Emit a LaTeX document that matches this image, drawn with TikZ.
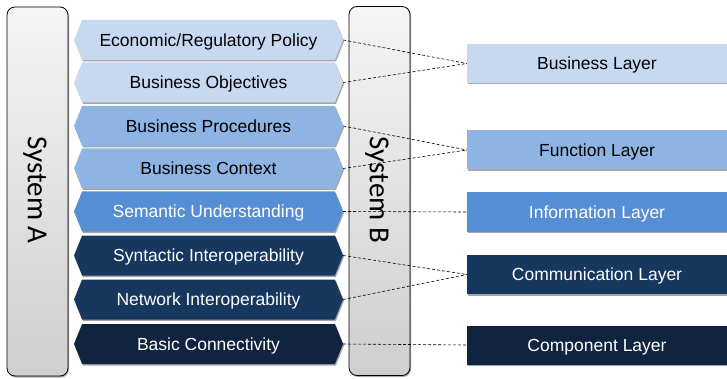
\documentclass[tikz,border=0pt]{standalone}
\usepackage{fontspec}
\setmainfont{Liberation Sans}
\newfontfamily\sysfont{Carlito}
\usetikzlibrary{shapes.symbols,shadows}
\definecolor{cA}{HTML}{C6D9F1}
\definecolor{cB}{HTML}{8EB4E3}
\definecolor{cC}{HTML}{558ED5}
\definecolor{cD}{HTML}{17375E}
\definecolor{cE}{HTML}{10243F}
\tikzset{
  shad/.style={drop shadow={shadow xshift=1pt,shadow yshift=-1.5pt,opacity=0.35,fill=black}},
  hexbox/.style={signal, signal to=west and east, signal pointer angle=136,
    minimum width=269pt, minimum height=40pt, inner sep=0pt, draw=none,
    text height=14pt, text depth=1.5pt,
    font=\fontsize{17.5}{20}\selectfont, shad},
  laybox/.style={rectangle, minimum width=260pt, minimum height=39pt, inner sep=0pt,
    text height=14pt, text depth=1.5pt,
    font=\fontsize{17.5}{20}\selectfont, shad},
  sysbox/.style={rectangle, rounded corners=8pt, draw=black, line width=0.8pt,
    top color=gray!8, bottom color=gray!38, minimum width=61pt, minimum height=369pt, shad},
  systext/.style={rotate=-90, font=\sysfont\fontsize{29}{32}\selectfont},
  conn/.style={densely dashed, line width=0.6pt, black}
}
\begin{document}
\begin{tikzpicture}[x=1pt,y=-1pt]
\useasboundingbox (0,0) rectangle (727,379);
\node[sysbox] (sysA) at (37.5,191.5) {};
\node[systext] (sysAt) at (35,190) {System A};
\node[sysbox] (sysB) at (379.5,191) {};
\node[systext] (sysBt) at (377,190) {System B};

\node[hexbox, fill=cA] (h1) at (208.5,40) {Economic/Regulatory Policy};
\node[hexbox, fill=cA] (h2) at (208.5,82.5) {Business Objectives};
\node[hexbox, fill=cB] (h3) at (208.5,126) {Business Procedures};
\node[hexbox, fill=cB] (h4) at (208.5,168.5) {Business Context};
\node[hexbox, fill=cC, text=white] (h5) at (208.5,211.5) {Semantic Understanding};
\node[hexbox, fill=cD, text=white] (h6) at (208.5,255.5) {Syntactic Interoperability};
\node[hexbox, fill=cD, text=white] (h7) at (208.5,299.5) {Network Interoperability};
\node[hexbox, fill=cE, text=white] (h8) at (208.5,344) {Basic Connectivity};

\node[laybox, fill=cA] (l1) at (597,63.5) {Business Layer};
\node[laybox, fill=cB] (l2) at (597,150) {Function Layer};
\node[laybox, fill=cC, text=white] (l3) at (597,212) {Information Layer};
\node[laybox, fill=cD, text=white] (l4) at (597,274.5) {Communication Layer};
\node[laybox, fill=cE, text=white] (l5) at (597,345) {Component Layer};

\draw[conn] (h1.east) -- (l1.west);
\draw[conn] (h2.east) -- (l1.west);
\draw[conn] (h3.east) -- (l2.west);
\draw[conn] (h4.east) -- (l2.west);
\draw[conn] (h5.east) -- (l3.west);
\draw[conn] (h6.east) -- (l4.west);
\draw[conn] (h7.east) -- (l4.west);
\draw[conn] (h8.east) -- (l5.west);
\end{tikzpicture}
\end{document}
